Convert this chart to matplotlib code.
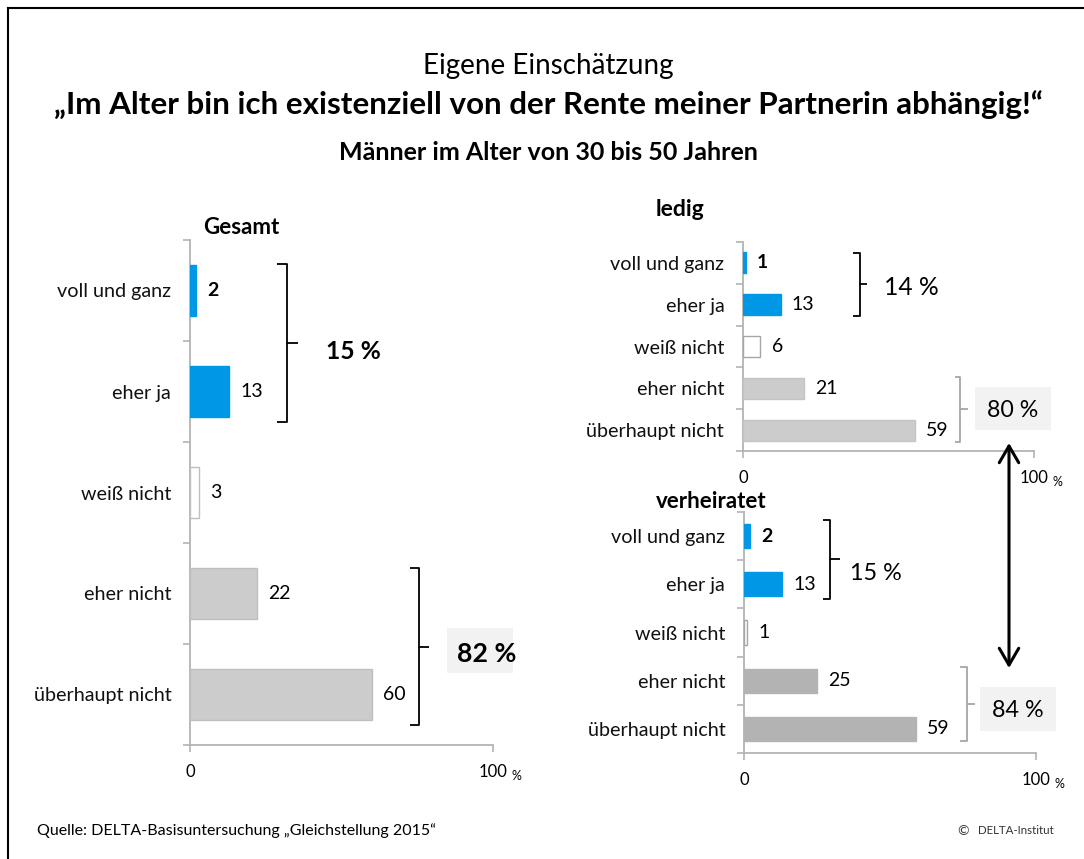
import matplotlib
matplotlib.use("Agg")
import matplotlib.pyplot as plt
from matplotlib.lines import Line2D
from matplotlib.patches import FancyArrowPatch

plt.rcParams["font.family"] = ["Lato", "DejaVu Sans"]

# ---- data -------------------------------------------------------------
categories = ["voll und ganz", "eher ja", "weiß nicht", "eher nicht", "überhaupt nicht"]
gesamt = [2, 13, 3, 22, 60]
ledig = [1, 13, 6, 21, 59]
verheiratet = [2, 13, 1, 25, 59]

gesamt_groups = ["15 %", "82 %"]
ledig_groups = ["14 %", "80 %"]
verheiratet_groups = ["15 %", "84 %"]

title_top = "Eigene Einschätzung"
title_main = "„Im Alter bin ich existenziell von der Rente meiner Partnerin abhängig!“"
subtitle = "Männer im Alter von 30 bis 50 Jahren"
source = "Quelle: DELTA-Basisuntersuchung „Gleichstellung 2015“"
copyright_sign = "©"
copyright_name = "DELTA-Institut"

# ---- styling ----------------------------------------------------------
BLUE = "#0098e6"
AXIS = "#b3b3b3"
W, H = 1084, 859

fig = plt.figure(figsize=(W / 100, H / 100), dpi=100)
fig.patch.set_facecolor("white")


def px_axes(left, top, right, bottom):
    return fig.add_axes([left / W, 1 - bottom / H, (right - left) / W, (bottom - top) / H])


def bar_panel(ax, values, light, dark_light, label_size, value_size, edge_gray):
    n = len(values)
    ypos = list(range(n))
    face = [BLUE, BLUE, "white", light, light]
    edges = [BLUE, BLUE, edge_gray, dark_light, dark_light]
    ax.barh(ypos, values, height=0.5, color=face, edgecolor=edges, linewidth=1.0, zorder=3)
    ax.set_xlim(0, 100)
    ax.set_ylim(n - 0.5, -0.5)
    ax.set_facecolor("none")
    for s in ("top", "right"):
        ax.spines[s].set_visible(False)
    for s in ("left", "bottom"):
        ax.spines[s].set_color(AXIS)
        ax.spines[s].set_linewidth(1.3)
    ax.set_yticks(ypos)
    ax.set_yticklabels(categories, fontsize=label_size, color="#111111")
    ax.tick_params(axis="y", which="major", length=0, pad=13.5)
    ax.set_yticks([i - 0.5 for i in range(n + 1)], minor=True)
    ax.tick_params(axis="y", which="minor", length=5, color=AXIS, width=1.2)
    ax.set_xticks([0, 100])
    ax.set_xticklabels(["0", "100"], fontsize=12)
    ax.tick_params(axis="x", length=5, color=AXIS, width=1.2, pad=8.5)
    ax.annotate("%", xy=(100, 0), xycoords=("data", "axes fraction"),
                xytext=(13, -22), textcoords="offset points", fontsize=9,
                ha="left", va="center")
    for i, v in enumerate(values):
        ax.annotate(str(v), xy=(v, i), xytext=(8, 0), textcoords="offset points",
                    va="center", ha="left", fontsize=value_size,
                    fontweight="bold" if i == 0 else "normal")


def brace(ax, x, y0, y1, color, hook=2.5, tip=2.5, lw=1.3):
    ym = (y0 + y1) / 2
    kw = dict(color=color, lw=lw, clip_on=False, solid_capstyle="butt",
              solid_joinstyle="round", zorder=4)
    ax.plot([x - hook, x, x, x + tip], [y0, y0, ym, ym], **kw)
    ax.plot([x - hook, x, x], [y1, y1, ym], **kw)


def shaded(ax, x0, y0, w, h):
    ax.add_patch(plt.Rectangle((x0, y0), w, h, facecolor="#f2f2f2",
                               edgecolor="none", clip_on=False, zorder=2))


# ---- overlay for titles, frame, arrow, footer -------------------------
ov = fig.add_axes([0, 0, 1, 1], zorder=10)
ov.set_xlim(0, W)
ov.set_ylim(H, 0)
ov.axis("off")
ov.add_line(Line2D([8, 8], [8, H], color="black", lw=1.5))
ov.add_line(Line2D([8, W], [8, 8], color="black", lw=1.5))

ov.text(548, 66, title_top, fontsize=20, ha="center", va="center")
ov.text(548, 106, title_main, fontsize=22.6, fontweight="bold", ha="center", va="center")
ov.text(548, 153, subtitle, fontsize=18, fontweight="bold", ha="center", va="center")
ov.text(203, 227, "Gesamt", fontsize=16, fontweight="bold", ha="left", va="center")
ov.text(656, 209, "ledig", fontsize=16.5, fontweight="bold", ha="left", va="center")
ov.text(656, 502, "verheiratet", fontsize=16, fontweight="bold", ha="left", va="center")
ov.text(37, 831, source, fontsize=11.5, ha="left", va="center")
ov.text(957, 831, copyright_sign, fontsize=10, ha="left", va="center", color="#333333")
ov.text(1054, 831, copyright_name, fontsize=8.3, ha="right", va="center", color="#333333")

ov.add_patch(FancyArrowPatch((1009, 443), (1009, 668),
                             arrowstyle="<->,head_length=0.6,head_width=0.35",
                             mutation_scale=20, lw=2.2, color="black",
                             shrinkA=0, shrinkB=0))

# ---- Gesamt -----------------------------------------------------------
ax1 = px_axes(190, 240, 493, 745)
bar_panel(ax1, gesamt, "#cccccc", "#bfbfbf", 14.2, 14, "#bfbfbf")
brace(ax1, 32.0, -0.26, 1.3, "black", hook=3.3, tip=3.6)
brace(ax1, 75.6, 2.75, 4.3, "black", hook=3.0, tip=3.3)
ax1.text(53.8, 0.6, gesamt_groups[0], fontsize=17.7, fontweight="bold",
         ha="center", va="center")
shaded(ax1, 84.8, 3.34, 21.8, 0.446)
ax1.text(98.0, 3.6, gesamt_groups[1], fontsize=19.3, fontweight="bold",
         ha="center", va="center", zorder=5)

# ---- ledig ------------------------------------------------------------
ax2 = px_axes(743, 242, 1034, 451)
bar_panel(ax2, ledig, "#cccccc", "#c4c4c4", 14.2, 14, "#a6a6a6")
brace(ax2, 40.2, -0.244, 1.27, "black", hook=2.4, tip=2.4)
brace(ax2, 74.6, 2.73, 4.28, "#a6a6a6", hook=1.8, tip=2.7)
ax2.text(57.7, 0.6, ledig_groups[0], fontsize=17.7, ha="center", va="center")
shaded(ax2, 79.7, 2.97, 26.1, 1.03)
ax2.text(92.6, 3.52, ledig_groups[1], fontsize=16.7, ha="center", va="center", zorder=5)

# ---- verheiratet ------------------------------------------------------
ax3 = px_axes(744, 512, 1036, 753)
bar_panel(ax3, verheiratet, "#b3b3b3", "#b3b3b3", 14.2, 14, "#a6a6a6")
brace(ax3, 29.5, -0.33, 1.3, "black", hook=2.4, tip=3.4)
brace(ax3, 76.4, 2.72, 4.25, "#a6a6a6", hook=2.4, tip=2.7)
ax3.text(45.2, 0.78, verheiratet_groups[0], fontsize=16.8, ha="center", va="center")
shaded(ax3, 80.8, 3.13, 26.0, 0.91)
ax3.text(93.8, 3.61, verheiratet_groups[1], fontsize=16.8, ha="center", va="center", zorder=5)

fig.savefig("out.png", dpi=100, facecolor="white")
